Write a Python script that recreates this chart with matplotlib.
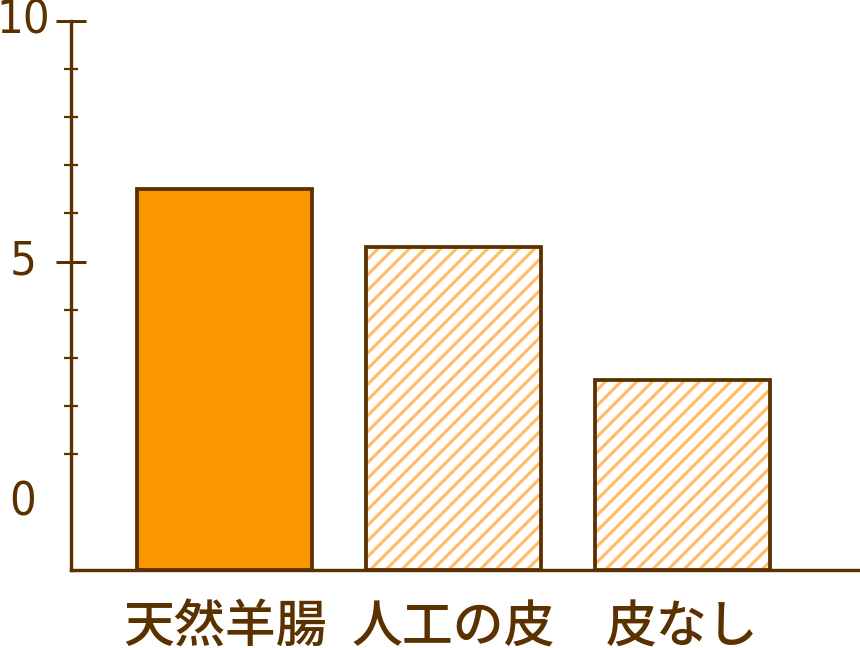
import matplotlib
matplotlib.use("Agg")
import matplotlib.pyplot as plt
import matplotlib.transforms as mtransforms
import numpy as np

# Data
categories = ["天然羊腸", "人工の皮", "皮なし"]
values = [6.5, 5.3, 2.55]
hatched = [False, True, True]
y_major = [0, 5, 10]
y_major_labels = ["0", "5", "10"]
y_minor = [1, 2, 3, 4, 6, 7, 8, 9]

brown = "#5c3100"
orange = "#f99600"
hatch_orange = "#ffbe66"

DPI = 94
plt.rcParams["hatch.linewidth"] = 2.4

fig = plt.figure(figsize=(860 / DPI, 648 / DPI), dpi=DPI)
ax = fig.add_axes([71 / 860, 78 / 648, 1 - 71 / 860, (570 - 20.7) / 648])

y_bottom = -1.4
ax.set_ylim(y_bottom, 10)
ax.set_xlim(-0.67, 2.775)

x = np.arange(len(categories))
heights = [v - y_bottom for v in values]
width = 0.764

# Fill / hatch layer
for xi, h, hat in zip(x, heights, hatched):
    if hat:
        ax.bar(xi, h, width, bottom=y_bottom, color="white",
               edgecolor=hatch_orange, hatch="//", linewidth=0, zorder=2)
    else:
        ax.bar(xi, h, width, bottom=y_bottom, color=orange,
               linewidth=0, zorder=2)
# Outline layer
ax.bar(x, heights, width, bottom=y_bottom, fill=False,
       edgecolor=brown, linewidth=2.9, zorder=3)

# Axes styling
for side in ["top", "right"]:
    ax.spines[side].set_visible(False)
for side in ["left", "bottom"]:
    ax.spines[side].set_color(brown)
    ax.spines[side].set_linewidth(2.6)

ax.set_yticks(y_major)
ax.set_yticklabels(y_major_labels)
ax.set_yticks(y_minor, minor=True)
ax.tick_params(axis="y", which="major", direction="inout", length=23.7,
               width=2.3, color=brown, labelcolor=brown, labelsize=36,
               pad=24.9)
ax.tick_params(axis="y", which="minor", direction="inout", length=10.7,
               width=1.7, color=brown)
ax.yaxis.get_major_ticks()[0].tick1line.set_visible(False)

ax.set_xticks(x)
ax.set_xticklabels(categories, family=["Noto Sans CJK JP", "DejaVu Sans"],
                   weight="medium")
ax.tick_params(axis="x", length=0, labelcolor=brown, labelsize=39, pad=24)

shift_up = mtransforms.ScaledTranslation(0, 5 / DPI, fig.dpi_scale_trans)
for lab in ax.get_yticklabels():
    lab.set_horizontalalignment("center")
    lab.set_family("DejaVu Sans")
    lab.set_stretch("condensed")
    lab.set_transform(lab.get_transform() + shift_up)

fig.savefig("out.png", dpi=DPI)
plt.close(fig)
